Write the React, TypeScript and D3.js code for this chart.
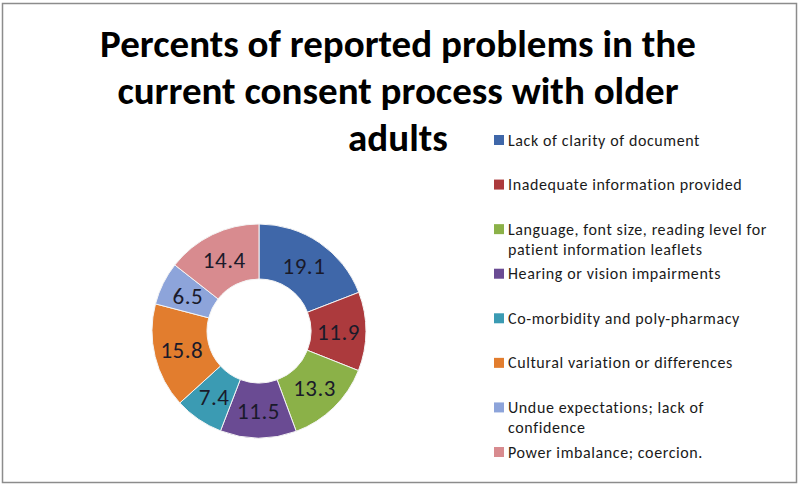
import React from 'react'
import * as d3 from 'd3'

const categories = [
  'Lack of clarity of document',
  'Inadequate information provided',
  'Language, font size, reading level for patient information leaflets',
  'Hearing or vision impairments',
  'Co-morbidity and poly-pharmacy',
  'Cultural variation or differences',
  'Undue expectations; lack of confidence',
  'Power imbalance; coercion.',
]

// legend text, split where the original wraps
const legendLines = [
  ['Lack of clarity of document'],
  ['Inadequate information provided'],
  ['Language, font size, reading level for', 'patient information leaflets'],
  ['Hearing or vision impairments'],
  ['Co-morbidity and poly-pharmacy'],
  ['Cultural variation or differences'],
  ['Undue expectations; lack of', 'confidence'],
  ['Power imbalance; coercion.'],
]

const values = [19.1, 11.9, 13.3, 11.5, 7.4, 15.8, 6.5, 14.4]

const colors = ['#3f67a9', '#ac3a3d', '#8bb148', '#6a4b93', '#3b9bb3', '#e27d2e', '#8da4da', '#d88b8f']

const titleLines = ['Percents of reported problems in the', 'current consent process with older', 'adults']

const W = 800
const H = 487
const cx = 259
const cy = 331
const outerR = 107
const innerR = 52

export default function App() {
  const pie = d3.pie<number>().sort(null).value(d => d)
  const arcs = pie(values)
  const arc = d3.arc<d3.PieArcDatum<number>>().innerRadius(innerR).outerRadius(outerR)

  const legendY = d3.scalePoint<number>()
    .domain(d3.range(categories.length))
    .range([140, 452])

  const font = 'Calibri, Carlito, Lato, sans-serif'

  return (
    <svg width={W} height={H} style={{ position: 'absolute', left: 0, top: 0, background: '#fff' }}>
      <rect x={2.5} y={3.5} width={794} height={479} fill="#fff" stroke="#8c8c8c" strokeWidth={1.5} />

      <g fontFamily={font} fontWeight="bold" fontSize={39} textAnchor="middle" fill="#000">
        {titleLines.map((t, i) => (
          <text key={i} x={398} y={57 + i * 47}>{t}</text>
        ))}
      </g>

      <g transform={`translate(${cx},${cy})`}>
        {arcs.map((a, i) => (
          <path key={i} d={arc(a) || ''} fill={colors[i]} stroke="#f4f4f4" strokeWidth={1} />
        ))}
        {arcs.map((a, i) => {
          const [x, y] = arc.centroid(a)
          return (
            <text key={'l' + i} x={x} y={y} dy="0.36em" textAnchor="middle"
              fontFamily={font} fontSize={23} letterSpacing={0.5} fill="#1a1a2a">
              {d3.format('.1f')(a.data)}
            </text>
          )
        })}
      </g>

      <g fontFamily={font} fontSize={16} letterSpacing={0.6} fill="#1a1a1a">
        {legendLines.map((lines, i) => {
          const y = legendY(i) as number
          return (
            <g key={i}>
              <rect x={494} y={y - 5} width={10} height={10} fill={colors[i]} />
              {lines.map((l, j) => (
                <text key={j} x={508} y={y + j * 20} dy="0.35em">{l}</text>
              ))}
            </g>
          )
        })}
      </g>
    </svg>
  )
}
